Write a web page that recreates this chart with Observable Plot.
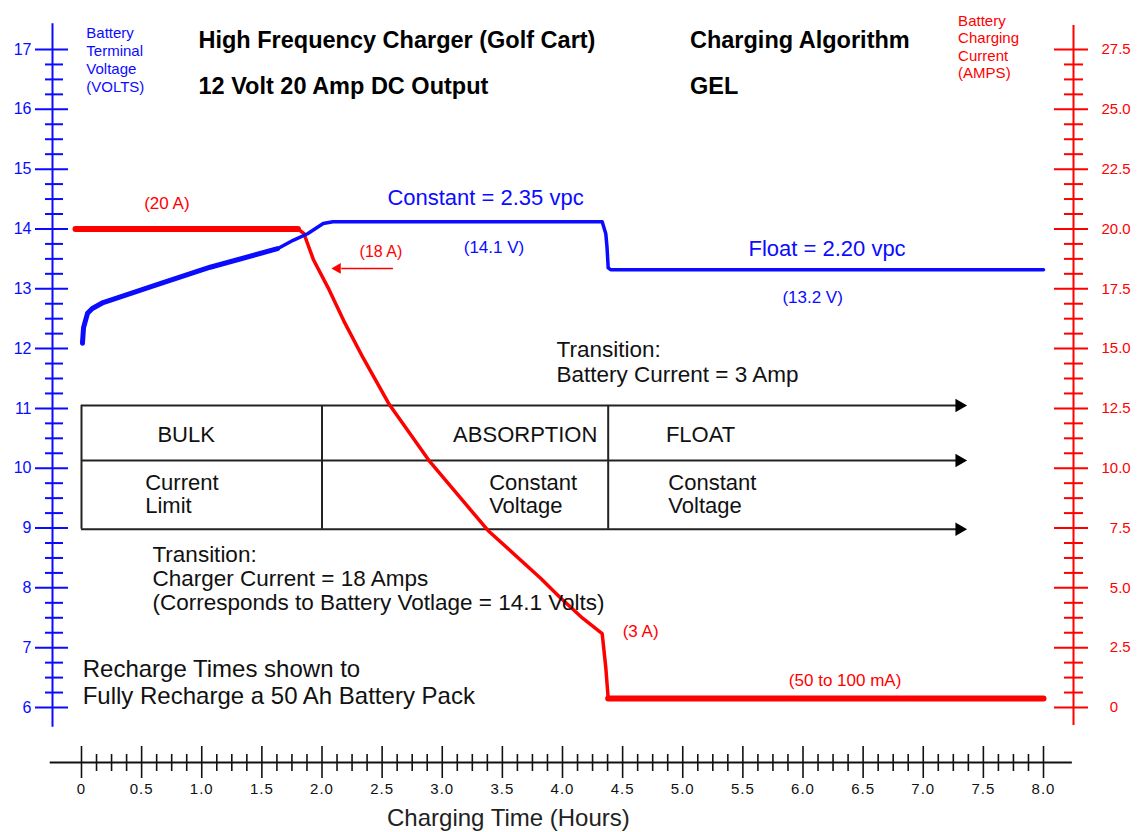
<!DOCTYPE html>
<html><head><meta charset="utf-8">
<script src="https://cdn.jsdelivr.net/npm/d3@7"></script>
<script src="https://cdn.jsdelivr.net/npm/@observablehq/plot@0.6"></script>
<style>
body{margin:0;background:#fff;}
#chart svg{display:block;}
g[aria-label="x-axis tick label"] text {letter-spacing:1px;}
g[aria-label="small-label"] text, g[aria-label="axis-title"] text {letter-spacing:1px;}
</style></head><body><div id="chart"></div>
<script>
// ---- data ----
const voltTime  = [0.008, 0.017, 0.05, 0.09, 0.18, 0.66, 1.07, 1.63, 1.76, 1.88, 2.01, 2.09, 4.33, 4.36, 4.37, 4.38, 4.40, 8.0];
const voltValue = [12.09, 12.35, 12.59, 12.67, 12.77, 13.09, 13.36, 13.67, 13.81, 13.92, 14.09, 14.12, 14.12, 13.92, 13.70, 13.35, 13.32, 13.32];
const voltPhase = ["bulk","bulk","bulk","bulk","bulk","bulk","bulk","bulk","absorption","absorption","absorption","absorption","absorption","float","float","float","float","float"];

const currentTime  = [-0.05, 1.80, 1.85, 1.93, 2.05, 2.18, 2.34, 2.56, 2.89, 3.38, 3.82, 3.98, 4.17, 4.33, 4.36, 4.38, 8.0];
const currentAmps  = [20.0, 20.0, 19.8, 18.7, 17.55, 16.17, 14.63, 12.66, 10.32, 7.40, 5.39, 4.60, 3.72, 3.09, 1.67, 0.38, 0.38];
const currentPhase = ["bulk","bulk","absorption","absorption","absorption","absorption","absorption","absorption","absorption","absorption","absorption","absorption","absorption","absorption","absorption","float","float"];

const stageNames = ["BULK", "ABSORPTION", "FLOAT"];
const stageModes = ["Current\nLimit", "Constant\nVoltage", "Constant\nVoltage"];
const stageStart = [0, 2.0, 4.38];

const voltTicks = d3.range(6, 18, 1);
const ampTicks = d3.range(0, 27.6, 2.5);
const hourTicks = d3.range(0, 8.01, 0.5);

// ---- derived tables ----
const ampToVolt = a => 6 + a / 2.5;
const voltage = voltTime.map((t, i) => ({t, v: voltValue[i], phase: voltPhase[i]}));
const current = currentTime.map((t, i) => ({t, amps: currentAmps[i], phase: currentPhase[i]}));
const voltMinor = d3.range(6, 17.01, 0.25).filter(v => Math.abs(v - Math.round(v)) > 1e-6);
const ampMajorV = ampTicks.map(ampToVolt);
const ampLabel = new Map(ampTicks.map(a => [ampToVolt(a).toFixed(3), (a < 10 ? "\u2007" : "") + (a === 0 ? "0" : a.toFixed(1))]));
const hourMinor = d3.range(0, 8.01, 0.125).filter(h => Math.abs(h * 2 - Math.round(h * 2)) > 1e-6);

const BLUE = "#0b0bff", RED = "#ff0000", INK = "#111";
const F = "Liberation Sans, Arial, sans-serif";

const txt = (s, o) => Plot.text([s], {text: d => d, fontFamily: F, ...o});

const chart = Plot.plot({
  width: 1140, height: 832,
  marginLeft: 81, marginRight: 97, marginTop: 49, marginBottom: 125,
  x: {domain: [0, 8], axis: null},
  y: {domain: [6, 17], axis: null},
  style: {background: "#fff", fontFamily: F, overflow: "visible"},
  marks: [
    // axis lines
    Plot.ruleX([0], {dx: -29, y1: 17.43, y2: 5.67, stroke: BLUE, strokeWidth: 2}),
    Plot.ruleX([8], {dx: 30, y1: 17.4, y2: 5.7, stroke: RED, strokeWidth: 2}),
    Plot.ruleY([6], {dy: 55, x1: -0.26, x2: 8.24, stroke: INK, strokeWidth: 2}),
    // left axis
    Plot.axisY(voltTicks, {anchor: "left", tickSize: 33, dx: -13, tickPadding: 4, stroke: BLUE, fill: BLUE, strokeWidth: 2, fontSize: 16, fontFamily: F, label: null, tickFormat: d => String(d)}),
    Plot.axisY(voltMinor, {anchor: "left", tickSize: 18, dx: -18, stroke: BLUE, fill: null, strokeWidth: 2, label: null}),
    // right axis (amps)
    Plot.axisY(ampMajorV, {anchor: "right", tickSize: 34, dx: 10, tickPadding: 14, stroke: RED, fill: RED, strokeWidth: 2, fontSize: 15, fontFamily: F, label: null, tickFormat: v => ampLabel.get(v.toFixed(3))}),
    Plot.axisY(voltMinor, {anchor: "right", tickSize: 19, dx: 20, stroke: RED, fill: null, strokeWidth: 2, label: null}),
    // bottom axis
    Plot.axisX(hourTicks, {anchor: "bottom", tickSize: 32, dy: 39, tickPadding: 5, stroke: INK, fill: INK, strokeWidth: 1.6, fontSize: 15, fontFamily: F, label: null, tickFormat: d => d === 0 ? "0" : d.toFixed(1)}),
    Plot.axisX(hourMinor, {anchor: "bottom", tickSize: 17, dy: 47, stroke: INK, fill: null, strokeWidth: 1.6, label: null}),

    // stage table
    Plot.ruleY([11.05, 10.13, 8.98], {x1: 0, x2: 7.35, stroke: "#222", strokeWidth: 2}),
    Plot.dot([11.05, 10.13, 8.98], {x: 7.3, y: d => d, symbol: "triangle", rotate: 90, r: 5, fill: "#000", stroke: null}),
    Plot.ruleX(stageStart, {y1: 8.98, y2: 11.05, stroke: "#222", strokeWidth: 2}),
    Plot.text([stageNames[0]], {x: 0.87, y: 10.56, text: d => d, textAnchor: "middle", fontSize: 22, fontFamily: F, fill: INK}),
    Plot.text([stageNames[1]], {x: 4.29, y: 10.56, text: d => d, textAnchor: "end", fontSize: 22, fontFamily: F, fill: INK}),
    Plot.text([stageNames[2]], {x: 4.86, y: 10.56, text: d => d, textAnchor: "start", fontSize: 22, fontFamily: F, fill: INK}),
    Plot.text(stageModes, {x: [0.53, 3.39, 4.88], y: 9.57, text: d => d, textAnchor: "start", lineHeight: 1.06, fontSize: 22, fontFamily: F, fill: INK}),

    // series
    Plot.line(current, {x: "t", y: d => ampToVolt(d.amps), stroke: RED, strokeWidth: 3.5, curve: "linear"}),
    Plot.line(current.filter(d => d.phase !== "absorption"), {x: "t", y: d => ampToVolt(d.amps), z: "phase", stroke: RED, strokeWidth: 6}),
    Plot.line(voltage, {x: "t", y: "v", stroke: BLUE, strokeWidth: 3.5}),
    Plot.line(voltage.filter(d => d.phase === "bulk"), {x: "t", y: "v", stroke: BLUE, strokeWidth: 5}),

    // 18 A arrow
    Plot.link([0], {x1: 2.59, x2: 2.16, y1: 13.34, y2: 13.34, stroke: RED, strokeWidth: 1.5}),
    Plot.dot([0], {x: 2.13, y: 13.34, symbol: "triangle", rotate: -90, r: 4, fill: RED, stroke: null}),

    // titles
    txt("High Frequency Charger (Golf Cart)", {x: 0.973, y: 17.15, textAnchor: "start", fontWeight: "bold", fontSize: 23.5, fill: "#000"}),
    txt("12 Volt 20 Amp DC Output", {x: 0.973, y: 16.38, textAnchor: "start", fontWeight: "bold", fontSize: 23.5, fill: "#000"}),
    txt("Charging Algorithm", {x: 5.06, y: 17.15, textAnchor: "start", fontWeight: "bold", fontSize: 23.5, fill: "#000"}),
    txt("GEL", {x: 5.06, y: 16.38, textAnchor: "start", fontWeight: "bold", fontSize: 23.5, fill: "#000"}),

    // axis titles
    txt("Battery\nTerminal\nVoltage\n(VOLTS)", {x: 0.04, y: 16.83, textAnchor: "start", lineHeight: 1.2, fontSize: 15, fill: BLUE, ariaLabel: "axis-title"}),
    txt("Battery\nCharging\nCurrent\n(AMPS)", {x: 7.29, y: 17.05, textAnchor: "start", lineHeight: 1.15, fontSize: 15, fill: RED, ariaLabel: "axis-title"}),
    txt("Charging Time (Hours)", {x: 3.55, y: 4.14, textAnchor: "middle", fontSize: 24, fill: "#222"}),

    // annotations
    txt("Constant = 2.35 vpc", {x: 3.36, y: 14.51, fontSize: 22, fill: BLUE}),
    txt("(14.1 V)", {x: 3.43, y: 13.69, fontSize: 17, fill: BLUE, ariaLabel: "small-label"}),
    txt("Float = 2.20 vpc", {x: 6.2, y: 13.66, fontSize: 22, fill: BLUE}),
    txt("(13.2 V)", {x: 6.08, y: 12.85, fontSize: 17, fill: BLUE, ariaLabel: "small-label"}),
    txt("(20 A)", {x: 0.71, y: 14.43, fontSize: 17, fill: RED, ariaLabel: "small-label"}),
    txt("(18 A)", {x: 2.49, y: 13.62, fontSize: 16, fill: RED, ariaLabel: "small-label"}),
    txt("(3 A)", {x: 4.65, y: 7.27, fontSize: 17, fill: RED, ariaLabel: "small-label"}),
    txt("(50 to 100 mA)", {x: 6.35, y: 6.45, fontSize: 17, fill: RED, ariaLabel: "small-label"}),
    txt("Transition:\nBattery Current = 3 Amp", {x: 3.95, y: 11.78, textAnchor: "start", lineHeight: 1.07, fontSize: 22.5, fill: INK}),
    txt("Transition:\nCharger Current = 18 Amps\n(Corresponds to Battery Votlage = 14.1 Volts)", {x: 0.59, y: 8.16, textAnchor: "start", lineHeight: 1.06, fontSize: 22.5, fill: INK}),
    txt("Recharge Times shown to\nFully Recharge a 50 Ah Battery Pack", {x: 0.01, y: 6.43, textAnchor: "start", lineHeight: 1.15, fontSize: 24, fill: INK})
  ]
});
document.getElementById("chart").appendChild(chart);
</script></body></html>
